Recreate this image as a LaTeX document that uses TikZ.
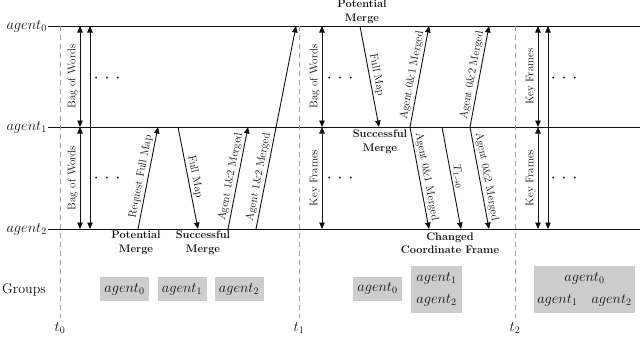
\documentclass[tikz,border=0pt]{standalone}
\usepackage{xcolor}
\usepackage{tikz}
\usetikzlibrary{arrows.meta,calc,positioning}
\definecolor{Ink}{HTML}{111111}
\definecolor{Shade}{HTML}{CDCDCD}
\definecolor{Rule}{HTML}{A0A0A0}
\newcommand{\msgarrow}[7][msg]{%
  \draw[#1] (#2,0 |- #3) -- node[lbl,sloped,above,pos=#7] {#6} (#4,0 |- #5);}
\newcommand{\threedots}{\textbullet\hspace{5.2pt}\textbullet\hspace{5.2pt}\textbullet}
\begin{document}
\begin{tikzpicture}[x=1pt,y=-1pt,
    msg/.style={-{Triangle[length=6.5pt,width=5.5pt]},line width=0.9pt,color=Ink},
    dbl/.style={{Triangle[length=6.5pt,width=5.5pt]}-{Triangle[length=6.5pt,width=5.5pt]},line width=0.9pt,color=Ink},
    rowline/.style={line width=0.9pt,color=Ink},
    timeline/.style={dash pattern=on 5pt off 4pt,line width=0.7pt,color=Rule},
    lbl/.style={font=\fontsize{11}{13}\selectfont,inner sep=2pt,text=Ink},
    note/.style={align=center,font=\fontsize{11}{13.5}\selectfont\bfseries,text=Ink},
    agentlbl/.style={font=\fontsize{14.5}{16}\selectfont,text=Ink},
    dotsrow/.style={font=\fontsize{6.5}{8}\selectfont,text=Ink,inner sep=0pt},
    grpbox/.style={fill=Shade,align=center,font=\fontsize{14}{22}\selectfont,inner sep=0pt,text=Ink}]
  \useasboundingbox (0,0) rectangle (640,340);
  \foreach \i/\y in {0/26,1/127,2/229}{
    \coordinate (r\i) at (48,\y);
    \node[agentlbl,anchor=east,inner sep=1pt] (a\i) at (r\i) {$agent_\i$};
    \draw[rowline] (r\i) -- ++(592,0);
  }
  \foreach \i/\x in {0/60,1/299,2/515}{
    \coordinate (d\i) at (\x,0 |- r0);
    \draw[timeline] (d\i) -- ++(0,292) node[anchor=north,inner sep=4pt,text=Ink,font=\fontsize{14}{15}\selectfont] (t\i) {$t_\i$};
  }
  \msgarrow[dbl]{80}{r1}{80}{r0}{Bag of Words}{0.5}
  \msgarrow[dbl]{80}{r2}{80}{r1}{Bag of Words}{0.5}
  \draw[dbl] (90,0 |- r2) -- (90,0 |- r0);
  \msgarrow{138}{r2}{158}{r1}{Request Full Map}{0.5}
  \msgarrow{178}{r1}{198}{r2}{Full Map}{0.5}
  \msgarrow{228}{r2}{248}{r1}{Agent 1\&2 Merged}{0.5}
  \msgarrow{256}{r2}{296}{r0}{Agent 1\&2 Merged}{0.25}
  \msgarrow[dbl]{322}{r1}{322}{r0}{Bag of Words}{0.5}
  \msgarrow[dbl]{322}{r2}{322}{r1}{Key Frames}{0.5}
  \msgarrow{360}{r0}{379}{r1}{Full Map}{0.5}
  \msgarrow{410}{r1}{429}{r0}{Agent 0\&1 Merged}{0.5}
  \msgarrow{470}{r1}{489}{r0}{Agent 0\&2 Merged}{0.5}
  \msgarrow{410}{r1}{429}{r2}{Agent 0\&1 Merged}{0.5}
  \msgarrow{442}{r1}{461}{r2}{$T_{1\rightarrow 0}$}{0.5}
  \msgarrow{470}{r1}{489}{r2}{Agent 0\&2 Merged}{0.5}
  \msgarrow[dbl]{538}{r1}{538}{r0}{Key Frames}{0.5}
  \msgarrow[dbl]{538}{r2}{538}{r1}{Key Frames}{0.5}
  \draw[dbl] (548,0 |- r2) -- (548,0 |- r0);
  \foreach \n/\x in {1/107,2/340,3/564}{
    \node[dotsrow] (u\n) at (\x,78) {\threedots};
    \node[dotsrow] (l\n) at (\x,178) {\threedots};
  }
  \node[note] (pm1) at (136,243) {Potential\\Merge};
  \node[note] (sm1) at (203,243) {Successful\\Merge};
  \node[note] (pm2) at (362,12) {Potential\\Merge};
  \node[note] (sm2) at (380,142) {Successful\\Merge};
  \node[note] (cf) at (450,243) {Changed\\Coordinate Frame};
  \node[font=\fontsize{14}{16}\selectfont,text=Ink] (grp) at (24,290) {Groups};
  \node[grpbox,minimum width=49pt,minimum height=24pt] (g1) at (124.5,289) {$agent_0$};
  \node[grpbox,minimum width=49pt,minimum height=24pt] (g2) at (182,289) {$agent_1$};
  \node[grpbox,minimum width=49pt,minimum height=24pt] (g3) at (239,289) {$agent_2$};
  \node[grpbox,minimum width=49pt,minimum height=24pt] (g4) at (377.5,288.5) {$agent_0$};
  \node[grpbox,minimum width=51pt,minimum height=47pt] (g5) at (436.5,289.5) {$agent_1$\\$agent_2$};
  \node[grpbox,minimum width=101pt,minimum height=47pt] (g6) at (584.5,289.5) {$agent_0$\\$agent_1$\quad$agent_2$};
\end{tikzpicture}
\end{document}
